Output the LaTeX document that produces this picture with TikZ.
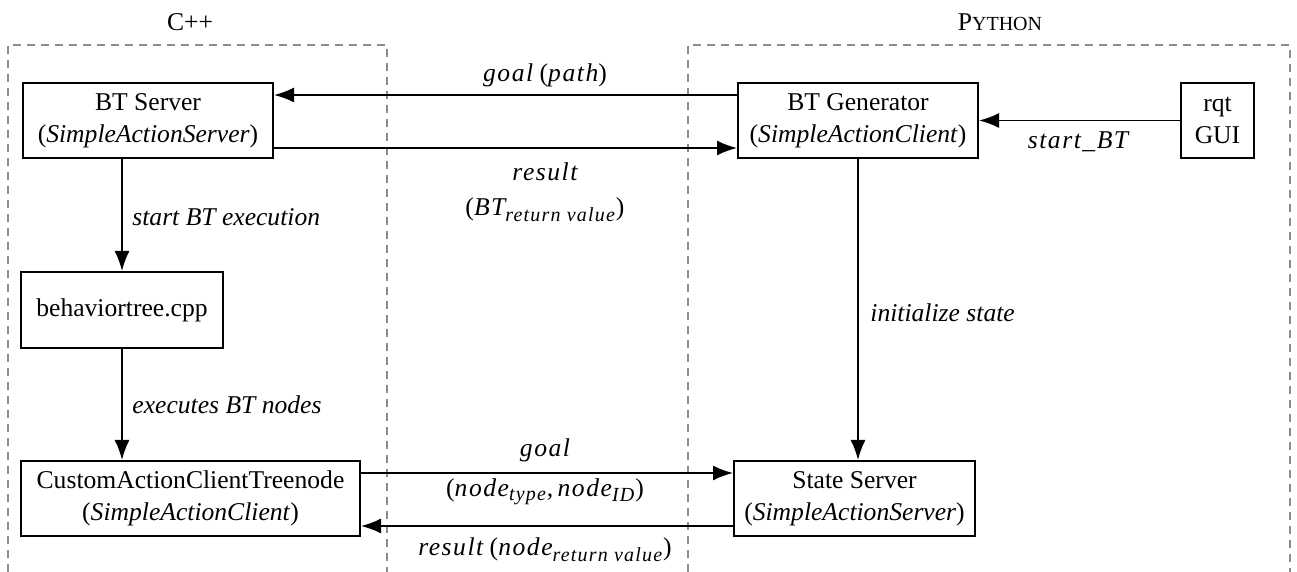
\documentclass[tikz,border=0pt]{standalone}
\usepackage{fontspec}
\setmainfont{Liberation Serif}
\usetikzlibrary{arrows.meta}
% italic variable names, spaced like math italic
\newcommand{\vname}[1]{{\addfontfeatures{LetterSpace=6}\itshape #1}}
\newcommand{\vsub}[1]{\textsubscript{\fontsize{10}{12}\selectfont\vname{#1}}}

\begin{document}
\begin{tikzpicture}[x=0.5pt,y=-0.5pt,
  font=\fontsize{12.8}{16}\selectfont,
  box/.style={draw,line width=1pt,align=center,inner sep=0pt},
  link/.style={line width=0.9pt,-{Latex[length=10pt,width=7.5pt]}},
  region/.style={draw=black!45,line width=0.8pt,dash pattern=on 4pt off 3pt},
  lbl/.style={inner sep=0pt},
  side/.style={inner sep=0pt,anchor=west}]
\useasboundingbox (0,0) rectangle (1297,572);

% language regions (open at the bottom)
\draw[region] (8,572) -- (8,45) -- (387,45) -- (387,572);
\draw[region] (688,572) -- (688,45) -- (1290,45) -- (1290,572);
\node[lbl] (cpp) at (190,22) {C++};
\node[lbl] (py) at (1000,22) {P{\fontsize{10}{12}\selectfont YTHON}};

% components
\node[box,minimum width=125pt,minimum height=37.5pt] (bts) at (148,120.5)
  {BT Server\\(\textit{SimpleActionServer})};
\node[box,minimum width=120pt,minimum height=37.5pt] (btg) at (858,120.5)
  {BT Generator\\(\textit{SimpleActionClient})};
\node[box,minimum width=36.5pt,minimum height=37.5pt] (rqt) at (1217.5,120.5)
  {rqt\\GUI};
\node[box,minimum width=101pt,minimum height=38pt] (bt) at (122,310)
  {behaviortree.cpp};
\node[box,minimum width=169.5pt,minimum height=37.5pt] (cust) at (190.5,498.5)
  {CustomActionClientTreenode\\(\textit{SimpleActionClient})};
\node[box,minimum width=120.5pt,minimum height=37.5pt] (ss) at (854.5,498.5)
  {State Server\\(\textit{SimpleActionServer})};

% action links
\draw[link] ([yshift=12.75pt]btg.west) -- ([yshift=12.75pt]bts.east);
\draw[link] ([yshift=-13.75pt]bts.east) -- ([yshift=-13.75pt]btg.west);
\draw[link] (rqt.west) -- (btg.east);
\draw[link] (bts.south -| bt.north) -- (bt.north);
\draw[link] (bt.south) -- (bt.south |- cust.north);
\draw[link] (btg.south) -- (btg.south |- ss.north);
\draw[link] ([yshift=12.75pt]cust.east) -- ([yshift=12.75pt]ss.west);
\draw[link] ([yshift=-13.75pt]ss.west) -- ([yshift=-13.75pt]cust.east);

% link labels
\node[lbl] (l1) at (545,75) {\vname{goal} (\vname{path})};
\node[lbl] (l2) at (545,172) {\vname{result}};
\node[lbl] (l3) at (545,210) {(\vname{BT}\vsub{return value})};
\node[lbl] (l4) at (1078,142) {\vname{start\_BT}};
\node[side] (l5) at (132,217) {\textit{start BT execution}};
\node[side] (l6) at (132,405) {\textit{executes BT nodes}};
\node[side] (l7) at (870,313) {\textit{initialize state}};
\node[lbl] (l8) at (545,450) {\vname{goal}};
\node[lbl] (l9) at (545,492) {(\vname{node}\vsub{type},\,\vname{node}\vsub{ID})};
\node[lbl] (l10) at (545,550) {\vname{result} (\vname{node}\vsub{return value})};
\end{tikzpicture}
\end{document}
